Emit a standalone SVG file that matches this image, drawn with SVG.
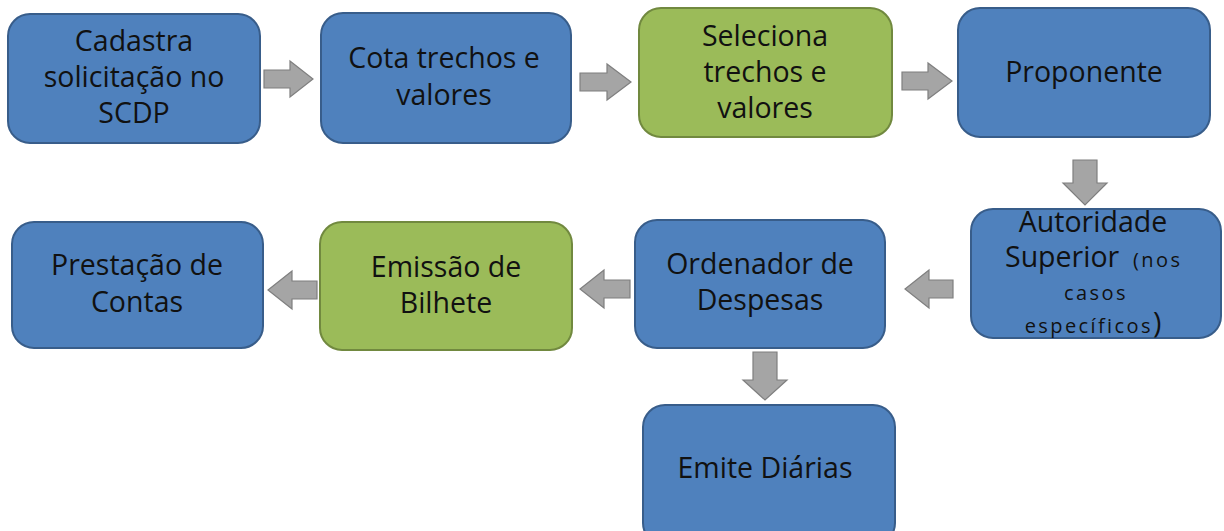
<svg xmlns="http://www.w3.org/2000/svg" width="1224" height="531" viewBox="0 0 1224 531">
<style>
.blue{fill:#4F81BD;stroke:#385D8A;stroke-width:2}
.green{fill:#9BBB59;stroke:#71893F;stroke-width:2}
.arr{fill:#A5A5A5;stroke:#7F7F7F;stroke-width:1.2}
text{font-family:"Open Sans","Noto Sans",sans-serif;font-size:28.5px;fill:#111;text-anchor:middle}
.sm{font-size:20px;letter-spacing:2.4px}
.st{text-anchor:start}
</style>
<rect width="1224" height="531" fill="#fff"/>
<g id="connectors">
<path class="arr" d="M264,70 H290 V61 L313,79 L290,97 V88 H264 Z"/>
<path class="arr" d="M580,73 H607 V64 L631,82 L607,100 V91 H580 Z"/>
<path class="arr" d="M902,72 H928 V63 L952,81 L928,99 V90 H902 Z"/>
<path class="arr" d="M1073,160 V183 H1063 L1085,205 L1107,183 H1097 V160 Z"/>
<path class="arr" d="M953,280 H929 V270 L905,289 L929,308 V298 H953 Z"/>
<path class="arr" d="M630,280 H604 V270 L580,289 L604,308 V298 H630 Z"/>
<path class="arr" d="M317,281 H292 V271 L268,290 L292,309 V299 H317 Z"/>
<path class="arr" d="M753,352 V380 H743 L765,400 L787,380 H777 V352 Z"/>
</g>
<g id="n1"><rect class="blue" x="8" y="14" width="252" height="129" rx="22"/>
<text x="134" y="51">Cadastra</text><text x="134" y="87">solicitação no</text><text x="134" y="123">SCDP</text></g>
<g id="n2"><rect class="blue" x="321" y="13" width="250" height="130" rx="22"/>
<text x="444" y="68">Cota trechos e</text><text x="444" y="105">valores</text></g>
<g id="n3"><rect class="green" x="639" y="8" width="253" height="129" rx="22"/>
<text x="765" y="46">Seleciona</text><text x="765" y="82">trechos e</text><text x="765" y="118">valores</text></g>
<g id="n4"><rect class="blue" x="958" y="8" width="252" height="129" rx="22"/>
<text x="1084" y="82">Proponente</text></g>
<g id="n5"><rect class="blue" x="971" y="209" width="250" height="129" rx="22"/>
<text x="1093" y="232">Autoridade</text>
<text class="st" x="1005" y="267">Superior</text>
<text class="sm st" x="1133" y="267">(nos</text>
<text class="sm" x="1096" y="300">casos</text>
<text class="sm" x="1093" y="333">específicos<tspan style="font-size:28.5px;letter-spacing:0">)</tspan></text></g>
<g id="n6"><rect class="blue" x="635" y="220" width="250" height="128" rx="22"/>
<text x="760" y="274">Ordenador de</text><text x="760" y="310">Despesas</text></g>
<g id="n7"><rect class="green" x="320" y="222" width="252" height="128" rx="22"/>
<text x="446" y="277">Emissão de</text><text x="446" y="313">Bilhete</text></g>
<g id="n8"><rect class="blue" x="12" y="222" width="251" height="126" rx="22"/>
<text x="137" y="275">Prestação de</text><text x="137" y="312">Contas</text></g>
<g id="n9"><rect class="blue" x="643" y="405" width="252" height="140" rx="22"/>
<text x="765" y="478">Emite Diárias</text></g>
</svg>
